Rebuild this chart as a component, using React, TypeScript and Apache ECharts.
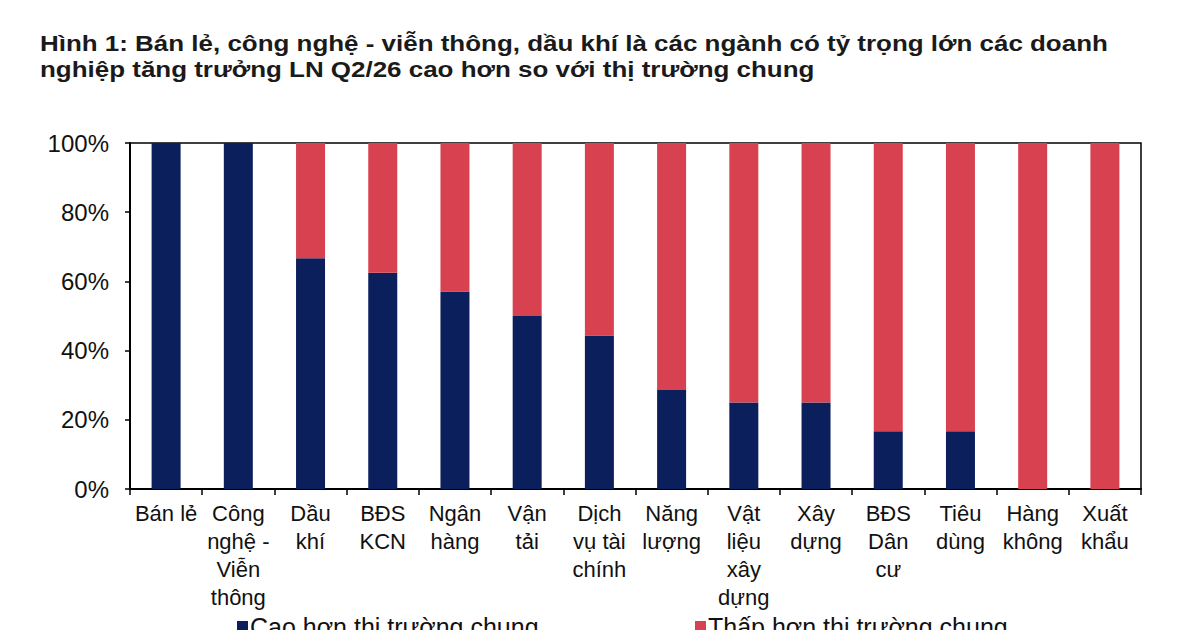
import React, { useEffect, useRef } from "react";
import * as echarts from "echarts";

// Sector names (line breaks follow the axis label wrapping)
const categories = [
  "Bán lẻ",
  "Công\nnghệ -\nViễn\nthông",
  "Dầu\nkhí",
  "BĐS\nKCN",
  "Ngân\nhàng",
  "Vận\ntải",
  "Dịch\nvụ tài\nchính",
  "Năng\nlượng",
  "Vật\nliệu\nxây\ndựng",
  "Xây\ndựng",
  "BĐS\nDân\ncư",
  "Tiêu\ndùng",
  "Hàng\nkhông",
  "Xuất\nkhẩu",
];

// Share of firms growing profit faster than the market (%)
const higherShare = [100, 100, 66.7, 62.5, 57.1, 50, 44.4, 28.6, 25, 25, 16.7, 16.7, 0, 0];
// Share of firms growing slower than the market (%)
const lowerShare = [0, 0, 33.3, 37.5, 42.9, 50, 55.6, 71.4, 75, 75, 83.3, 83.3, 100, 100];

const yTicks = [0, 20, 40, 60, 80, 100];

const seriesNames = ["Cao hơn thị trường chung", "Thấp hơn thị trường chung"];
const titleLines = [
  "Hình 1: Bán lẻ, công nghệ - viễn thông, dầu khí là các ngành có tỷ trọng lớn các doanh",
  "nghiệp tăng trưởng LN Q2/26 cao hơn so với thị trường chung",
];

const NAVY = "#0B1F5C";
const RED = "#D84250";
const FONT = "Liberation Sans, Arial, sans-serif";

export default function App() {
  const ref = useRef<HTMLDivElement>(null);

  useEffect(() => {
    document.body.style.margin = "0";
    const chart = echarts.init(ref.current!, undefined, { renderer: "svg" });
    const legendText = { fontFamily: FONT, fontSize: 25, color: "#111", padding: [0, 0, 0, -3] };
    chart.setOption({
      animation: false,
      backgroundColor: "#ffffff",
      graphic: [
        {
          type: "text",
          left: 40,
          top: 30,
          x: 40,
          y: 30,
          scaleX: 1.18,
          style: {
            text: titleLines.join("\n"),
            font: `bold 22px ${FONT}`,
            fill: "#1a1a1a",
            lineHeight: 26,
            textVerticalAlign: "top",
          },
        },
      ],
      legend: [
        {
          data: [seriesNames[0]],
          left: 237,
          top: 614,
          padding: 0,
          itemWidth: 11,
          itemHeight: 11,
          icon: "rect",
          textStyle: legendText,
        },
        {
          data: [seriesNames[1]],
          left: 695,
          top: 614,
          padding: 0,
          itemWidth: 11,
          itemHeight: 11,
          icon: "rect",
          textStyle: legendText,
        },
      ],
      grid: {
        left: 130,
        right: 59,
        top: 143,
        bottom: 141,
        show: true,
        borderColor: "#000",
        borderWidth: 1.5,
        backgroundColor: "transparent",
      },
      xAxis: {
        type: "category",
        data: categories,
        axisLine: { lineStyle: { color: "#000", width: 2 } },
        axisTick: { show: true, length: 6, lineStyle: { color: "#000", width: 1.5 } },
        axisLabel: {
          interval: 0,
          margin: 10,
          fontFamily: FONT,
          fontSize: 22,
          lineHeight: 28,
          color: "#111",
          verticalAlign: "top",
        },
      },
      yAxis: {
        type: "value",
        min: 0,
        max: 100,
        interval: 20,
        splitLine: { show: false },
        axisLine: { show: true, lineStyle: { color: "#000", width: 2 } },
        axisTick: { show: true, length: 5, inside: false, lineStyle: { color: "#000", width: 1.5 } },
        axisLabel: {
          fontFamily: FONT,
          fontSize: 24,
          color: "#111",
          margin: 21,
          formatter: (v: number) => (yTicks.includes(v) ? `${v}%` : ""),
        },
      },
      series: [
        {
          name: seriesNames[0],
          type: "bar",
          stack: "share",
          barWidth: 29,
          data: higherShare,
          itemStyle: { color: NAVY },
        },
        {
          name: seriesNames[1],
          type: "bar",
          stack: "share",
          barWidth: 29,
          data: lowerShare,
          itemStyle: { color: RED },
        },
      ],
    });
    return () => chart.dispose();
  }, []);

  return <div ref={ref} style={{ width: 1200, height: 630 }} />;
}
